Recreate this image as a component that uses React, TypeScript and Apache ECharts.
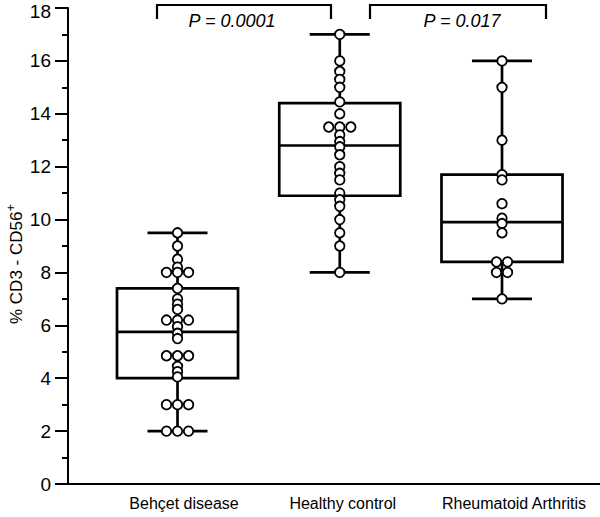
import React, { useEffect, useRef } from "react";
import * as echarts from "echarts";

const categories = ["Behçet disease", "Healthy control", "Rheumatoid Arthritis"];
const behcetValues = [9.5, 9.0, 8.5, 8.2, 8.0, 8.0, 8.0, 7.4, 7.0, 6.8, 6.6, 6.2, 6.2, 6.2, 5.95, 5.7, 5.5, 4.85, 4.85, 4.85, 4.45, 4.25, 4.05, 3, 3, 3, 2, 2, 2];
const healthyValues = [17, 16, 15.6, 15.3, 15.0, 14.45, 14.0, 13.5, 13.5, 13.5, 13.2, 12.95, 12.75, 12.45, 12.0, 11.75, 11.5, 11.0, 10.75, 10.5, 10.0, 9.5, 9.0, 8.0];
const raValues = [16, 15, 13, 11.7, 11.5, 10.6, 10.05, 9.85, 9.5, 8.4, 8.4, 8.0, 8.0, 7.0];
const groupValues = [behcetValues, healthyValues, raValues];

const whiskerLow = [2, 8, 7];
const q1Values = [4.0, 10.9, 8.4];
const medianValues = [5.75, 12.8, 9.9];
const q3Values = [7.4, 14.4, 11.7];
const whiskerHigh = [9.5, 17, 16];

const yTicks = [0, 2, 4, 6, 8, 10, 12, 14, 16, 18];
const pLabels = ["P = 0.0001", "P = 0.017"];

const FONT = "Liberation Sans, Arial, sans-serif";
const BOX_W = 0.746;
const CAP_W = 0.37;
const SLOT = 0.068;
const LABEL_SHIFT = [13, 6, 24];

function buildPoints() {
  const pts: number[][] = [];
  groupValues.forEach((vals, gi) => {
    const counts: Record<string, number> = {};
    vals.forEach((v) => {
      counts[String(v)] = (counts[String(v)] || 0) + 1;
    });
    const seen: Record<string, number> = {};
    vals.forEach((v) => {
      const k = String(v);
      const n = counts[k];
      const i = seen[k] || 0;
      seen[k] = i + 1;
      const slot = i - (n - 1) / 2;
      pts.push([gi + 1 + slot * SLOT, v]);
    });
  });
  return pts;
}

export default function App() {
  const ref = useRef<HTMLDivElement>(null);
  useEffect(() => {
    if (!ref.current) return;
    const chart = echarts.init(ref.current, null, { renderer: "svg" });
    const boxData = categories.map((_, i) => [i + 1, whiskerLow[i], q1Values[i], medianValues[i], q3Values[i], whiskerHigh[i]]);
    const rich: Record<string, any> = {};
    categories.forEach((_, i) => {
      rich["c" + i] = { fontSize: 16, color: "#000", fontFamily: FONT, padding: [0, 0, 0, LABEL_SHIFT[i]] };
    });
    const yMax = yTicks[yTicks.length - 1];
    const option: any = {
      animation: false,
      backgroundColor: "#fff",
      grid: { left: 68, right: 0, top: 8, bottom: 33, containLabel: false, outerBoundsMode: "none" },
      xAxis: {
        type: "value",
        min: 0.325,
        max: 3.604,
        splitLine: { show: false },
        axisTick: { show: false },
        axisLine: { lineStyle: { color: "#000", width: 2 } },
        axisLabel: {
          customValues: [1, 2, 3],
          margin: 11,
          formatter: (v: number) => {
            const i = Math.round(v) - 1;
            return "{c" + i + "|" + categories[i] + "}";
          },
          rich,
        },
      },
      yAxis: {
        type: "value",
        min: 0,
        max: 18,
        interval: 2,
        splitLine: { show: false },
        axisLine: { show: true, lineStyle: { color: "#000", width: 2 } },
        axisTick: { show: true, length: 13, lineStyle: { color: "#000", width: 2 } },
        minorTick: { show: true, splitNumber: 2, length: 6, lineStyle: { color: "#000", width: 2 } },
        axisLabel: {
          color: "#000",
          fontSize: 19,
          margin: 17,
          fontFamily: FONT,
          formatter: (v: number) => (yTicks.indexOf(v) < 0 ? "" : v === yMax ? "{top|" + v + "}" : "{t|" + v + "}"),
          rich: {
            t: { fontSize: 19, lineHeight: 16, color: "#000", fontFamily: FONT },
            top: { fontSize: 19, lineHeight: 16, color: "#000", fontFamily: FONT, padding: [6, 0, 0, 0] },
          },
        },
      },
      graphic: [
        {
          type: "polyline",
          shape: { points: [[157, 19], [157, 5], [331, 5], [331, 19]] },
          style: { stroke: "#000", lineWidth: 2.2, fill: null },
        },
        {
          type: "polyline",
          shape: { points: [[370, 19], [370, 5], [546, 5], [546, 19]] },
          style: { stroke: "#000", lineWidth: 2.2, fill: null },
        },
        {
          type: "text",
          x: 232,
          y: 21,
          style: { text: pLabels[0], fontSize: 18, fontStyle: "italic", fontFamily: FONT, fill: "#000", align: "center", verticalAlign: "middle" },
        },
        {
          type: "text",
          x: 462,
          y: 21,
          style: { text: pLabels[1], fontSize: 18, fontStyle: "italic", fontFamily: FONT, fill: "#000", align: "center", verticalAlign: "middle" },
        },
        {
          type: "text",
          x: 14,
          y: 264,
          rotation: Math.PI / 2,
          style: {
            text: "{m|% CD3 - CD56}{s|+}",
            align: "center",
            verticalAlign: "middle",
            fill: "#000",
            rich: {
              m: { fontSize: 17, fontFamily: FONT, fill: "#000", color: "#000", verticalAlign: "bottom" },
              s: { fontSize: 13, fontFamily: FONT, fill: "#000", color: "#000", verticalAlign: "top", padding: [0, 0, 8, 0] },
            },
          },
        },
      ],
      series: [
        {
          type: "custom",
          z: 2,
          data: boxData,
          encode: { x: 0, y: [1, 2, 3, 4, 5] },
          renderItem: (params: any, api: any) => {
            const x = api.value(0);
            const pMin = api.coord([x, api.value(1)]);
            const pQ1 = api.coord([x, api.value(2)]);
            const pMed = api.coord([x, api.value(3)]);
            const pQ3 = api.coord([x, api.value(4)]);
            const pMax = api.coord([x, api.value(5)]);
            const half = api.size([BOX_W, 0])[0] / 2;
            const capHalf = api.size([CAP_W, 0])[0] / 2;
            const ls = { stroke: "#000", lineWidth: 2.7, fill: null };
            const cx = pMed[0];
            return {
              type: "group",
              children: [
                { type: "rect", shape: { x: cx - half, y: pQ3[1], width: half * 2, height: pQ1[1] - pQ3[1] }, style: { stroke: "#000", lineWidth: 2.7, fill: "none" } },
                { type: "line", shape: { x1: cx - half, y1: pMed[1], x2: cx + half, y2: pMed[1] }, style: ls },
                { type: "line", shape: { x1: cx, y1: pMax[1], x2: cx, y2: pQ3[1] }, style: ls },
                { type: "line", shape: { x1: cx, y1: pQ1[1], x2: cx, y2: pMin[1] }, style: ls },
                { type: "line", shape: { x1: cx - capHalf, y1: pMax[1], x2: cx + capHalf, y2: pMax[1] }, style: ls },
                { type: "line", shape: { x1: cx - capHalf, y1: pMin[1], x2: cx + capHalf, y2: pMin[1] }, style: ls },
              ],
            };
          },
        },
        {
          type: "scatter",
          z: 3,
          symbol: "circle",
          symbolSize: 9.5,
          data: buildPoints(),
          itemStyle: { color: "#fff", borderColor: "#000", borderWidth: 1.8, opacity: 1 },
        },
      ],
    };
    chart.setOption(option);
    return () => chart.dispose();
  }, []);
  return <div ref={ref} style={{ position: "fixed", left: 0, top: 0, width: 600, height: 517, background: "#fff" }} />;
}
